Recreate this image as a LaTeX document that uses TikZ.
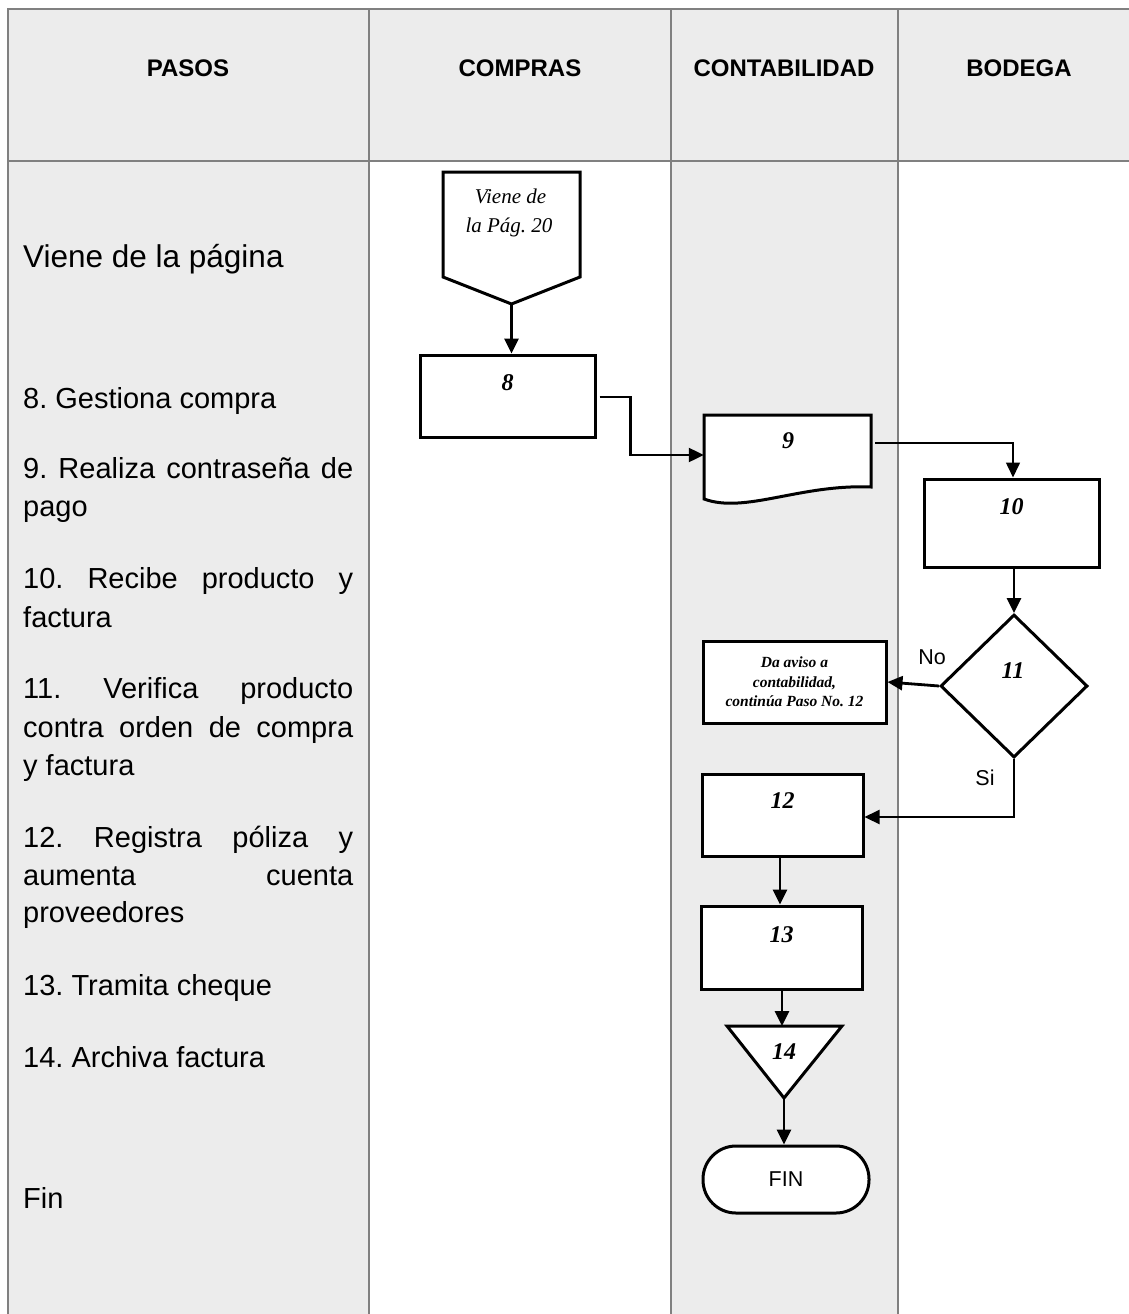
\documentclass[tikz,border=0pt]{standalone}
\usepackage{fontspec}
\setmainfont{Liberation Sans}
\newfontfamily\flowserif{Liberation Serif}
\usetikzlibrary{arrows.meta,shapes.geometric}
\definecolor{lanefill}{HTML}{ECECEC}
\definecolor{laneline}{HTML}{808080}
\frenchspacing

\begin{document}
\begin{tikzpicture}[x=1pt,y=-1pt,
  lanerule/.style={draw=laneline, line width=2pt},
  head/.style={font=\bfseries\fontsize{24}{26}\selectfont, anchor=base, inner sep=0pt},
  paso/.style={font=\fontsize{29}{34}\selectfont, anchor=base west, inner sep=0pt},
  pasobig/.style={font=\fontsize{31.5}{36}\selectfont, anchor=base west, inner sep=0pt},
  shapeline/.style={draw=black, line width=3pt, line join=miter},
  stepbox/.style={shapeline, fill=white, rectangle, inner sep=0pt},
  num/.style={font=\flowserif\bfseries\itshape\fontsize{24}{26}\selectfont, anchor=base, inner sep=0pt},
  note/.style={font=\flowserif\bfseries\itshape\fontsize{15.5}{20}\selectfont, anchor=base, inner sep=0pt},
  offtxt/.style={font=\flowserif\itshape\fontsize{21}{29}\selectfont, anchor=base, inner sep=0pt},
  lbl/.style={font=\fontsize{21.5}{24}\selectfont, anchor=base, inner sep=0pt},
  flow/.style={line width=2.8pt, -{Triangle[length=15pt,width=14pt]}},
  thinflow/.style={line width=1.6pt, -{Triangle[length=15pt,width=14pt]}},
  midflow/.style={line width=2.2pt, -{Triangle[length=15pt,width=14pt]}}
]
\useasboundingbox (0,0) rectangle (1129,1314);

% swimlane backgrounds
\fill[lanefill] (8,9) rectangle (1129,161);
\fill[lanefill] (8,161) rectangle (369,1314);
\fill[lanefill] (671,161) rectangle (898,1314);

% swimlane rules
\draw[lanerule] (1129,9) -- (8,9) -- (8,1314);
\draw[lanerule] (369,9) -- (369,1314);
\draw[lanerule] (671,9) -- (671,1314);
\draw[lanerule] (898,9) -- (898,1314);
\draw[lanerule] (8,161) -- (1129,161);

% column titles
\node[head] (hpasos) at (188,77) {PASOS};
\node[head] (hcompras) at (520,77) {COMPRAS};
\node[head] (hconta) at (784,77) {CONTABILIDAD};
\node[head] (hbodega) at (1019,77) {BODEGA};

% step descriptions
\node[pasobig] (p0) at (23,267) {Viene de la página};
\node[paso] (p8) at (23,408) {8. Gestiona compra};
\node[paso] (p9a) at (23,478) {\makebox[330pt][s]{9. Realiza contraseña de}};
\node[paso] (p9b) at (23,516) {pago};
\node[paso] (p10a) at (23,588) {\makebox[330pt][s]{10. Recibe producto y}};
\node[paso] (p10b) at (23,627) {factura};
\node[paso] (p11a) at (23,698) {\makebox[330pt][s]{11. Verifica producto}};
\node[paso] (p11b) at (23,737) {\makebox[330pt][s]{contra orden de compra}};
\node[paso] (p11c) at (23,775) {y factura};
\node[paso] (p12a) at (23,847) {\makebox[330pt][s]{12. Registra póliza y}};
\node[paso] (p12b) at (23,885) {\makebox[330pt][s]{aumenta cuenta}};
\node[paso] (p12c) at (23,922) {proveedores};
\node[paso] (p13) at (23,995) {13. Tramita cheque};
\node[paso] (p14) at (23,1067) {14. Archiva factura};
\node[paso] (pfin) at (23,1208) {Fin};

% off-page connector
\draw[shapeline, fill=white] (443,172) -- (580,172) -- (580,277) -- (511.5,304) -- (443,277) -- cycle;
\coordinate (c0tip) at (511.5,304);
\node[offtxt] (c0a) at (510.5,203) {Viene de};
\node[offtxt] (c0b) at (509,232) {la Pág. 20};

% step 8
\node[stepbox, minimum width=175pt, minimum height=82pt] (b8) at (507.5,396) {};
\node[num] (n8) at (507.5,390) {8};

% step 9 (document)
\node[rectangle, inner sep=0pt, minimum width=167pt, minimum height=84pt] (b9) at (787.5,457) {};
\draw[shapeline, fill=white] (704,415) -- (871,415) -- (871,487)
  .. controls (800,484) and (745,514) .. (704,499) -- cycle;
\node[num] (n9) at (788,448) {9};

% step 10
\node[stepbox, minimum width=175pt, minimum height=88pt] (b10) at (1011.5,523) {};
\node[num] (n10) at (1011.5,514) {10};

% decision 11
\node[diamond, shapeline, fill=white, inner sep=0pt, minimum width=147pt, minimum height=143pt] (d11) at (1014,686) {};
\node[num] (n11) at (1013,678) {11};

% notice box
\node[stepbox, minimum width=183pt, minimum height=82pt] (aviso) at (794.5,682) {};
\node[note] (av1) at (794.5,667) {Da aviso a};
\node[note] (av2) at (794.5,687) {contabilidad,};
\node[note] (av3) at (794.5,706) {continúa Paso No. 12};

% step 12
\node[stepbox, minimum width=161pt, minimum height=82pt] (b12) at (782.5,815) {};
\node[num] (n12) at (782.5,808) {12};

% step 13
\node[stepbox, minimum width=161pt, minimum height=83pt] (b13) at (781.5,947.5) {};
\node[num] (n13) at (781.5,942) {13};

% step 14 (archive)
\draw[shapeline, fill=white] (727,1026) -- (842,1026) -- (784,1098) -- cycle;
\coordinate (t14top) at (782,1026);
\coordinate (t14tip) at (784,1098);
\node[num] (n14) at (784,1059) {14};

% end terminator
\node[shapeline, fill=white, rectangle, rounded corners=33pt, minimum width=166pt, minimum height=67pt, inner sep=0pt] (fin) at (786,1179.5) {};
\node[lbl] (finlbl) at (786,1186) {FIN};

% connectors
\draw[flow] (c0tip) -- (c0tip |- b8.north);
\draw[midflow] ([xshift=3pt,yshift=-1pt]b8.east) -- ++(31,0) |- ([yshift=2pt]b9.west);
\draw[thinflow] ([xshift=4pt,yshift=14pt]b9.east) -| ([xshift=1.5pt]b10.north);
\draw[flow] (d11.north |- b10.south) -- (d11.north);
\draw[flow] (d11.west) -- (aviso.east);
\draw[midflow] (d11.south) |- ([yshift=-2pt]b12.east);
\draw[flow] ([xshift=-2.5pt]b12.south) -- ([xshift=-1.5pt]b13.north);
\draw[flow] (t14top |- b13.south) -- (t14top);
\draw[flow] (t14tip) -- (t14tip |- fin.north);

% branch labels
\node[lbl] (lno) at (932,664) {No};
\node[lbl] (lsi) at (985,785) {Si};
\end{tikzpicture}
\end{document}
